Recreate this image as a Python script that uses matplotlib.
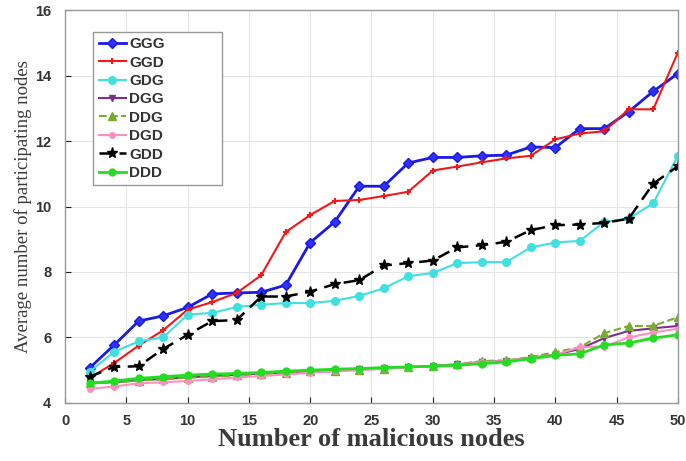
import matplotlib.pyplot as plt

# malicious node counts on the x axis
nodes = list(range(2, 51, 2))

ggg = [5.07, 5.77, 6.50, 6.66, 6.92, 7.33, 7.36, 7.38, 7.60, 8.90, 9.53, 10.62, 10.62, 11.33,
       11.50, 11.50, 11.55, 11.57, 11.82, 11.80, 12.38, 12.38, 12.90, 13.52, 14.06]
ggd = [4.76, 5.22, 5.75, 6.22, 6.85, 7.08, 7.36, 7.90, 9.22, 9.74, 10.17, 10.20, 10.32, 10.45,
       11.10, 11.22, 11.35, 11.47, 11.55, 12.05, 12.23, 12.30, 12.97, 12.97, 14.70]
gdg = [4.95, 5.56, 5.88, 6.00, 6.70, 6.75, 6.93, 7.00, 7.05, 7.05, 7.12, 7.27, 7.50, 7.87,
       7.97, 8.27, 8.30, 8.30, 8.75, 8.90, 8.95, 9.53, 9.63, 10.10, 11.55]
dgg = [4.62, 4.63, 4.70, 4.73, 4.78, 4.82, 4.86, 4.90, 4.93, 4.97, 5.00, 5.03, 5.06, 5.09,
       5.13, 5.18, 5.25, 5.28, 5.38, 5.47, 5.65, 5.98, 6.20, 6.28, 6.35]
ddg = [4.60, 4.62, 4.68, 4.72, 4.77, 4.80, 4.84, 4.88, 4.92, 4.96, 4.99, 5.02, 5.05, 5.09,
       5.13, 5.18, 5.28, 5.30, 5.40, 5.55, 5.70, 6.13, 6.35, 6.35, 6.62]
dgd = [4.43, 4.50, 4.60, 4.63, 4.67, 4.72, 4.78, 4.82, 4.87, 4.92, 4.96, 5.00, 5.04, 5.08,
       5.12, 5.17, 5.24, 5.28, 5.37, 5.47, 5.70, 5.72, 6.00, 6.15, 6.27]
gdd = [4.80, 5.10, 5.12, 5.65, 6.08, 6.50, 6.53, 7.25, 7.25, 7.40, 7.63, 7.75, 8.20, 8.27,
       8.35, 8.75, 8.82, 8.92, 9.28, 9.43, 9.45, 9.50, 9.63, 10.70, 11.23]
ddd = [4.60, 4.67, 4.75, 4.80, 4.85, 4.88, 4.90, 4.93, 4.97, 5.00, 5.03, 5.05, 5.08, 5.10,
       5.12, 5.15, 5.20, 5.25, 5.35, 5.45, 5.50, 5.77, 5.83, 5.98, 6.08]

x_ticks = [0, 5, 10, 15, 20, 25, 30, 35, 40, 45, 50]
y_ticks = [4, 6, 8, 10, 12, 14, 16]

plt.rcParams["font.family"] = ["Liberation Sans", "DejaVu Sans"]

fig = plt.figure(figsize=(6.86, 4.61), dpi=100)
ax = fig.add_axes([0.095, 0.126, 0.893, 0.852])

ax.plot(nodes, ggg, color="#1a1ae6", lw=2.0, marker="D", ms=5, mfc="#3030ff", label="GGG")
ax.plot(nodes, ggd, color="#f01818", lw=1.5, marker="+", ms=5, mew=1.5, label="GGD")
ax.plot(nodes, gdg, color="#40e0e0", lw=1.5, marker="o", ms=5.5, label="GDG")
ax.plot(nodes, dgg, color="#7e2f8e", lw=1.5, marker="v", ms=5, label="DGG")
ax.plot(nodes, ddg, color="#77ac30", lw=1.5, ls="--", marker="^", ms=5.5, label="DDG")
ax.plot(nodes, dgd, color="#ff8fc0", lw=1.5, marker="o", ms=4, label="DGD")
ax.plot(nodes, gdd, color="black", lw=1.8, ls=(0, (5, 3)), marker="*", ms=8, label="GDD")
ax.plot(nodes, ddd, color="#22dd22", lw=2.0, marker="o", ms=5, label="DDD")

ax.set_xlim(0, 50)
ax.set_ylim(4, 16)
ax.set_xticks(x_ticks)
ax.set_yticks(y_ticks)
ax.tick_params(direction="in", length=4, labelsize=10.5, colors="#222222")
ax.tick_params(axis="x", pad=8)
ax.tick_params(axis="y", pad=10)
for lbl in ax.get_xticklabels() + ax.get_yticklabels():
    lbl.set_fontweight("bold")
    lbl.set_color("#333333")
ax.grid(True, color="#e4e4e4", lw=0.8)
for s in ax.spines.values():
    s.set_color("#999999")
    s.set_linewidth(1.0)

ax.set_xlabel("Number of malicious nodes", family=["Liberation Serif", "DejaVu Serif"],
              fontsize=19, fontweight="bold", color="#3a3a3a", labelpad=0)
ax.set_ylabel("Average number of participating nodes", family=["Liberation Serif", "DejaVu Serif"],
              fontsize=13.5, color="#3a3a3a", labelpad=2)

# legend box stretched to a fixed width, MATLAB style
leg = ax.legend(loc="upper left", bbox_to_anchor=(0.046, 0.945, 0.21, 0.0), mode="expand",
                borderaxespad=0, fancybox=False, edgecolor="#999999", framealpha=1,
                handlelength=1.8, labelspacing=0.29, borderpad=0.35, handletextpad=0.2,
                prop={"weight": "bold", "size": 11})
leg.get_frame().set_linewidth(1.0)
for t in leg.get_texts():
    t.set_color("#333333")

fig.savefig("out.png", dpi=100)
